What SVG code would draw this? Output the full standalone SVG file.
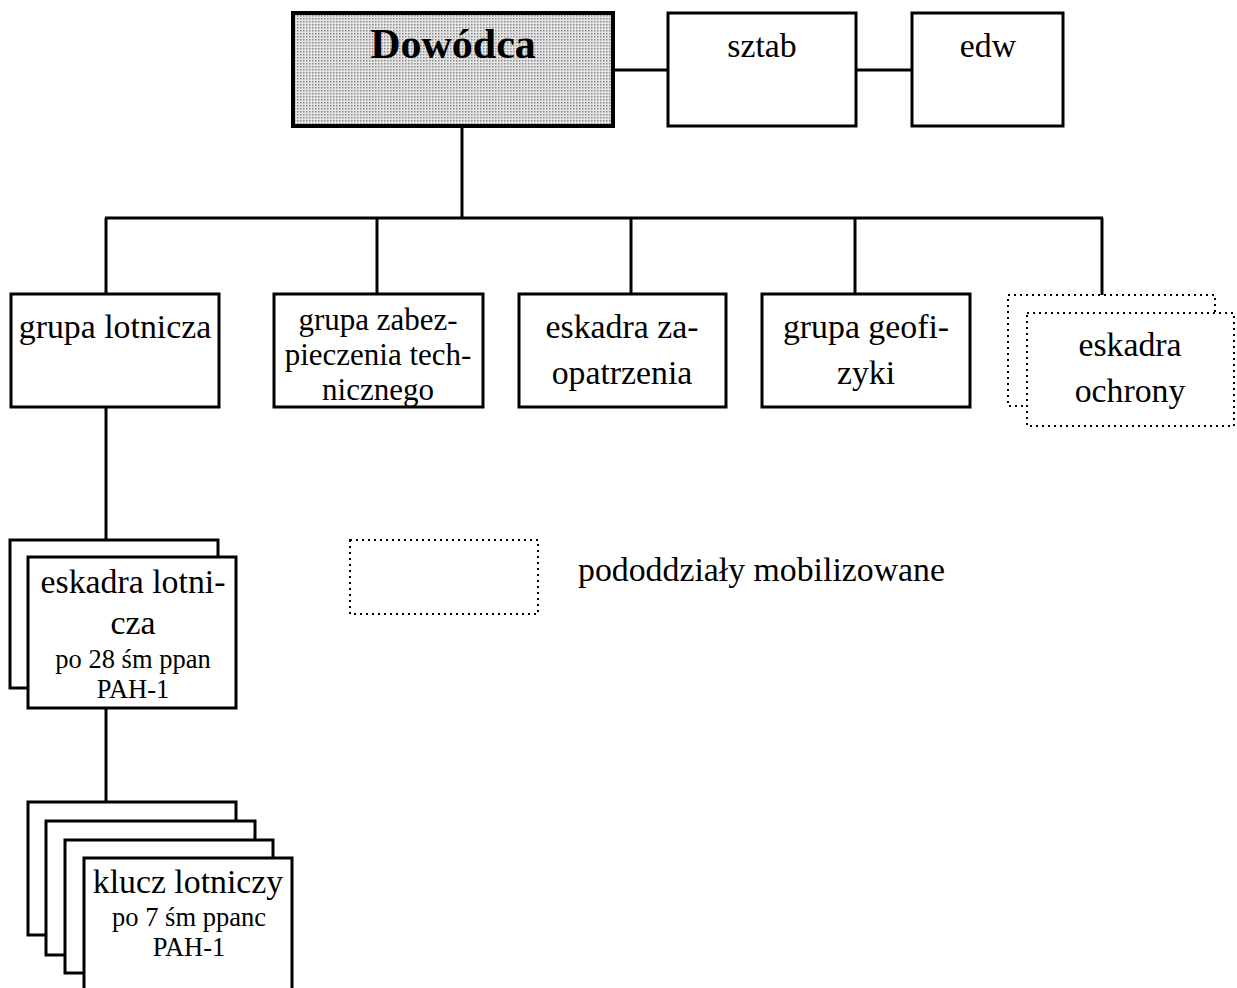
<svg xmlns="http://www.w3.org/2000/svg" width="1237" height="988" viewBox="0 0 1237 988">
<style>
.b{fill:#fff;stroke:#000;stroke-width:3}
.d{fill:#fff;stroke:#000;stroke-width:2;stroke-dasharray:2 4}
.t{font-family:"Liberation Serif","Times New Roman",serif;font-size:33.8px;fill:#000;text-anchor:middle}
.s{font-family:"Liberation Serif","Times New Roman",serif;font-size:26.5px;fill:#000;text-anchor:middle}
.c{stroke:#000;stroke-width:3;fill:none}
</style>
<defs>
<pattern id="dots" width="3" height="3" patternUnits="userSpaceOnUse">
<rect width="3" height="3" fill="#e4e4e4"/>
<rect x="0" y="0" width="1.5" height="1.5" fill="#8a8a8a"/>
</pattern>
</defs>
<g id="connectors">
<line class="c" x1="614" y1="70" x2="668" y2="70"/>
<line class="c" x1="856" y1="70" x2="912" y2="70"/>
<line class="c" x1="462" y1="127" x2="462" y2="218"/>
<line class="c" x1="105" y1="218" x2="1103" y2="218"/>
<line class="c" x1="106" y1="218" x2="106" y2="294"/>
<line class="c" x1="377" y1="218" x2="377" y2="294"/>
<line class="c" x1="631" y1="218" x2="631" y2="294"/>
<line class="c" x1="855" y1="218" x2="855" y2="294"/>
<line class="c" x1="1102" y1="218" x2="1102" y2="296"/>
<line class="c" x1="106" y1="407" x2="106" y2="540"/>
<line class="c" x1="106" y1="708" x2="106" y2="802"/>
</g>
<g id="dowodca">
<rect x="293" y="13" width="320" height="113" fill="url(#dots)" stroke="#000" stroke-width="4"/>
<text x="453" y="58" class="t" style="font-weight:bold;font-size:42px">Dowódca</text>
</g>
<g id="sztab">
<rect class="b" x="668" y="13" width="188" height="113"/>
<text x="762" y="57" class="t">sztab</text>
</g>
<g id="edw">
<rect class="b" x="912" y="13" width="151" height="113"/>
<text x="988" y="57" class="t">edw</text>
</g>
<g id="grupa-lotnicza">
<rect class="b" x="11" y="294" width="208" height="113"/>
<text x="115" y="338" class="t">grupa lotnicza</text>
</g>
<g id="grupa-zabezpieczenia">
<rect class="b" x="274" y="294" width="209" height="113"/>
<text x="378" y="330" class="t" style="font-size:31px">grupa zabez-</text>
<text x="378" y="365" class="t" style="font-size:31px">pieczenia tech-</text>
<text x="378" y="400" class="t" style="font-size:31px">nicznego</text>
</g>
<g id="eskadra-zaopatrzenia">
<rect class="b" x="519" y="294" width="207" height="113"/>
<text x="622" y="338" class="t">eskadra za-</text>
<text x="622" y="384" class="t">opatrzenia</text>
</g>
<g id="grupa-geofizyki">
<rect class="b" x="762" y="294" width="208" height="113"/>
<text x="866" y="338" class="t">grupa geofi-</text>
<text x="866" y="384" class="t">zyki</text>
</g>
<g id="eskadra-ochrony">
<rect class="d" x="1008" y="295" width="207" height="111"/>
<rect class="d" x="1027" y="313" width="207" height="113"/>
<text x="1130" y="356" class="t">eskadra</text>
<text x="1130" y="402" class="t">ochrony</text>
</g>
<g id="eskadra-lotnicza">
<rect class="b" x="10" y="540" width="208" height="148"/>
<rect class="b" x="28" y="557" width="208" height="151"/>
<text x="133" y="593" class="t">eskadra lotni-</text>
<text x="133" y="634" class="t">cza</text>
<text x="133" y="668" class="s">po 28 śm ppan</text>
<text x="133" y="698" class="s">PAH-1</text>
</g>
<g id="klucz-lotniczy">
<rect class="b" x="28" y="802" width="208" height="133"/>
<rect class="b" x="46" y="821" width="209" height="134"/>
<rect class="b" x="65" y="840" width="208" height="133"/>
<rect class="b" x="84" y="858" width="208" height="140"/>
<text x="188" y="893" class="t">klucz lotniczy</text>
<text x="189" y="926" class="s">po 7 śm ppanc</text>
<text x="189" y="956" class="s">PAH-1</text>
</g>
<g id="legenda">
<rect class="d" x="350" y="540" width="188" height="74"/>
<text x="578" y="581" class="t" style="text-anchor:start">pododdziały mobilizowane</text>
</g>
</svg>
